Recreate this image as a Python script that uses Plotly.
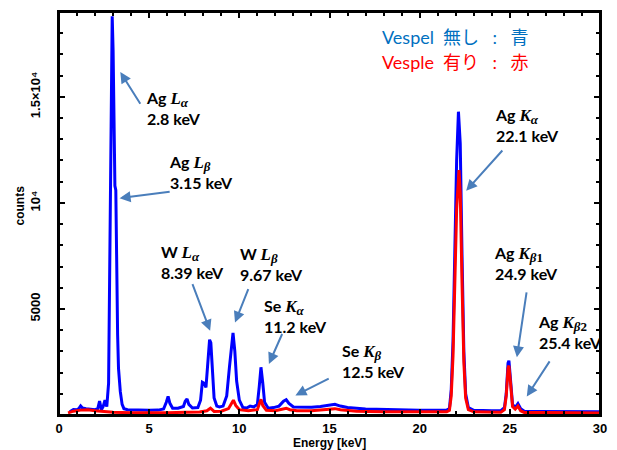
import plotly.graph_objects as go

# ---- data ----
blue_energy = [0.6, 0.8, 1.0, 1.1, 1.2, 1.3, 1.5, 1.8, 2.0, 2.15, 2.25, 2.35, 2.45, 2.55, 2.65,
               2.75, 2.85, 2.9, 2.95, 3.0, 3.05, 3.1, 3.15, 3.2, 3.25, 3.3, 3.4, 3.5, 3.6, 3.8,
               4.2, 4.6, 5.0, 5.5, 5.8, 5.95, 6.05, 6.15, 6.3, 6.6, 6.9, 7.0, 7.1, 7.2, 7.4,
               7.7, 7.85, 7.95, 8.05, 8.15, 8.25, 8.35, 8.42, 8.5, 8.6, 8.75, 8.9, 9.1, 9.3,
               9.45, 9.55, 9.65, 9.75, 9.85, 10.0, 10.2, 10.4, 10.6, 10.8, 11.0, 11.1, 11.2,
               11.3, 11.4, 11.6, 11.9, 12.2, 12.45, 12.6, 12.75, 13.0, 13.5, 14.0, 14.5, 15.0,
               15.3, 15.6, 16.0, 17.0, 18.0, 19.0, 20.0, 21.0, 21.5, 21.65, 21.75, 21.85, 21.95,
               22.05, 22.15, 22.25, 22.35, 22.45, 22.55, 22.7, 23.0, 23.5, 24.0, 24.5, 24.7,
               24.8, 24.9, 24.95, 25.05, 25.15, 25.3, 25.45, 25.6, 25.8, 26.5, 27.5, 28.5,
               29.5, 30.0]
blue_counts = [150, 260, 250, 300, 430, 330, 300, 280, 250, 300, 660, 250, 400, 700, 400,
               1500, 9000, 15800, 18800, 17200, 13500, 10800, 10600, 6400, 3800, 2200, 1100, 500, 300, 250,
               230, 220, 220, 230, 280, 600, 880, 550, 320, 320, 400, 650, 760, 500, 330,
               350, 700, 1550, 1500, 1300, 2400, 3550, 3400, 2000, 800, 420, 380, 420, 900,
               2250, 3200, 3870, 3000, 1600, 700, 350, 330, 420, 380, 500, 1300, 2250,
               1500, 600, 320, 350, 420, 650, 720, 550, 380, 360, 370, 400, 450,
               500, 420, 350, 280, 250, 230, 220, 220, 230, 300, 1200, 3500, 7500,
               12000, 14300, 12800, 7500, 3000, 1000, 350, 220, 200, 200, 210, 350,
               1000, 2450, 2560, 1600, 500, 350, 540, 300, 180, 170, 160, 160,
               150, 150]

red_energy = [0.5, 0.8, 1.2, 1.6, 2.0, 2.5, 3.0, 4.0, 5.0, 6.0, 7.0, 7.8, 8.2, 8.4, 8.6, 9.0,
              9.4, 9.55, 9.67, 9.8, 10.0, 10.5, 11.0, 11.1, 11.2, 11.3, 11.5, 12.0, 12.4, 12.6,
              12.8, 13.2, 14.0, 15.0, 15.3, 15.6, 16.5, 18.0, 20.0, 21.0, 21.5, 21.65, 21.75,
              21.85, 21.95, 22.05, 22.18, 22.25, 22.35, 22.45, 22.55, 22.7, 23.0, 24.0, 24.5,
              24.7, 24.8, 24.9, 24.95, 25.05, 25.15, 25.3, 25.45, 25.6, 25.8, 27.0, 28.5, 30.0]
red_counts = [100, 180, 230, 250, 200, 150, 130, 110, 100, 110, 130, 140, 200, 320, 170, 180,
              300, 550, 700, 450, 250, 200, 250, 500, 740, 450, 220, 200, 260, 320,
              250, 200, 200, 250, 300, 250, 180, 150, 140, 140, 150, 220, 900,
              2800, 6000, 9700, 11550, 10500, 6200, 2500, 800, 250, 150, 130, 130,
              250, 900, 2200, 2330, 1400, 400, 280, 420, 200, 120, 120, 110, 100]

series_names = ["Vespel 無し : 青", "Vesple 有り : 赤"]

x_tick_vals = [0, 5, 10, 15, 20, 25, 30]
y_tick_vals = [5000, 10000, 15000]
y_tick_text = ["5000", "10⁴", "1.5×10⁴"]


def sym(letter, sub):
    return ("<span style='font-family:Liberation Serif;font-size:17px'><i>%s</i></span>"
            "<sub><span style='font-family:Liberation Serif;font-size:13px'>%s</span></sub>"
            % (letter, sub))


# peak labels: (text, tip energy, tip counts, tail energy, tail counts, text energy, text counts)
peak_labels = [
    ("Ag " + sym("L", "<i>α</i>") + "<br>2.8 keV", 3.40, 16170, 4.56, 14600, 4.70, 14480),
    ("Ag " + sym("L", "<i>β</i>") + "<br>3.15 keV", 3.36, 10220, 6.22, 10540, 5.97, 11480),
    ("W " + sym("L", "<i>α</i>") + "<br>8.39 keV", 8.38, 3970, 7.37, 6240, 5.55, 7210),
    ("W " + sym("L", "<i>β</i>") + "<br>9.67 keV", 9.76, 4360, 10.53, 6000, 9.90, 7140),
    ("Se " + sym("K", "<i>α</i>") + "<br>11.2 keV", 11.64, 2410, 12.41, 3890, 11.24, 4650),
    ("Se " + sym("K", "<i>β</i>") + "<br>12.5 keV", 13.11, 924, 15.04, 1754, 15.56, 2565),
    ("Ag " + sym("K", "<i>α</i>") + "<br>22.1 keV", 22.58, 10570, 24.66, 12540, 24.07, 13680),
    ("Ag " + sym("K", "<i>β</i>1") + "<br>24.9 keV", 25.39, 2720, 25.94, 5850, 24.02, 7160),
    ("Ag " + sym("K", "<i>β</i>2") + "<br>25.4 keV", 25.94, 877, 27.26, 2600, 26.46, 3910),
]

fig = go.Figure()
fig.add_trace(go.Scatter(x=blue_energy, y=blue_counts, mode="lines",
                         line=dict(color="#0000ff", width=3), name=series_names[0]))
fig.add_trace(go.Scatter(x=red_energy, y=red_counts, mode="lines",
                         line=dict(color="#ff0000", width=3), name=series_names[1]))

ann_font = dict(family="Lato, Noto Sans CJK JP", size=16, color="black", weight="bold")
arrow_color = "#4a7ebb"
for text, tx, ty, ax, ay, lx, ly in peak_labels:
    fig.add_annotation(x=tx, y=ty, ax=ax, ay=ay, xref="x", yref="y", axref="x", ayref="y",
                       text="", showarrow=True, arrowhead=2, arrowsize=1.1, arrowwidth=2,
                       arrowcolor=arrow_color)
    fig.add_annotation(x=lx, y=ly, xref="x", yref="y", text=text, showarrow=False,
                       xanchor="left", yanchor="middle", align="left", font=ann_font)


def spaced(name):
    return name.replace(" : ", "\u2003:\u2003").replace(" ", "\u2002", 1)


fig.add_annotation(x=0.593, y=0.938, xref="paper", yref="paper", text=spaced(series_names[0]),
                   showarrow=False, xanchor="left", yanchor="middle",
                   font=dict(family="Lato, Noto Sans CJK JP", size=18, color="#0070c0"))
fig.add_annotation(x=0.593, y=0.876, xref="paper", yref="paper", text=spaced(series_names[1]),
                   showarrow=False, xanchor="left", yanchor="middle",
                   font=dict(family="Lato, Noto Sans CJK JP", size=18, color="#ff0000"))

axis_font = dict(family="Liberation Sans", size=13, color="black", weight="bold")
fig.add_annotation(x=0.5, y=-0.070, xref="paper", yref="paper", text="Energy [keV]",
                   showarrow=False, xanchor="center", yanchor="middle",
                   font=dict(family="Liberation Sans", size=12, color="black", weight="bold"))
fig.add_annotation(x=-0.072, y=0.52, xref="paper", yref="paper", text="counts", textangle=-90,
                   showarrow=False, xanchor="center", yanchor="middle",
                   font=dict(family="Liberation Sans", size=12, color="black", weight="bold"))

# frame box
fig.add_shape(type="rect", xref="paper", yref="paper", x0=0, y0=0, x1=1, y1=1,
              line=dict(color="black", width=2), layer="above")

fig.update_xaxes(range=[0, 30], tickvals=x_tick_vals, ticks="inside", ticklen=6, tickwidth=2,
                 tickcolor="black", showline=True, linewidth=2, linecolor="black", mirror="ticks",
                 showgrid=False, zeroline=False, tickfont=axis_font,
                 minor=dict(dtick=1, ticks="inside", ticklen=4, tickwidth=2, tickcolor="black"))
fig.update_yaxes(range=[0, 19000], tickvals=y_tick_vals, ticktext=y_tick_text, tickangle=-90,
                 ticks="inside", ticklen=6, tickwidth=2, tickcolor="black", showline=True,
                 linewidth=2, linecolor="black", mirror="ticks", showgrid=False, zeroline=False,
                 tickfont=axis_font, ticklabelstandoff=12,
                 minor=dict(dtick=1000, ticks="inside", ticklen=4, tickwidth=2, tickcolor="black"))

fig.update_layout(width=617, height=450, margin=dict(l=59, r=14, t=10, b=35),
                  plot_bgcolor="white", paper_bgcolor="white", showlegend=False)

fig.write_html("out.html", config={"displayModeBar": False},
               post_script="document.body.style.margin='0';document.body.style.padding='0';"
                           "document.body.style.overflow='hidden';")
